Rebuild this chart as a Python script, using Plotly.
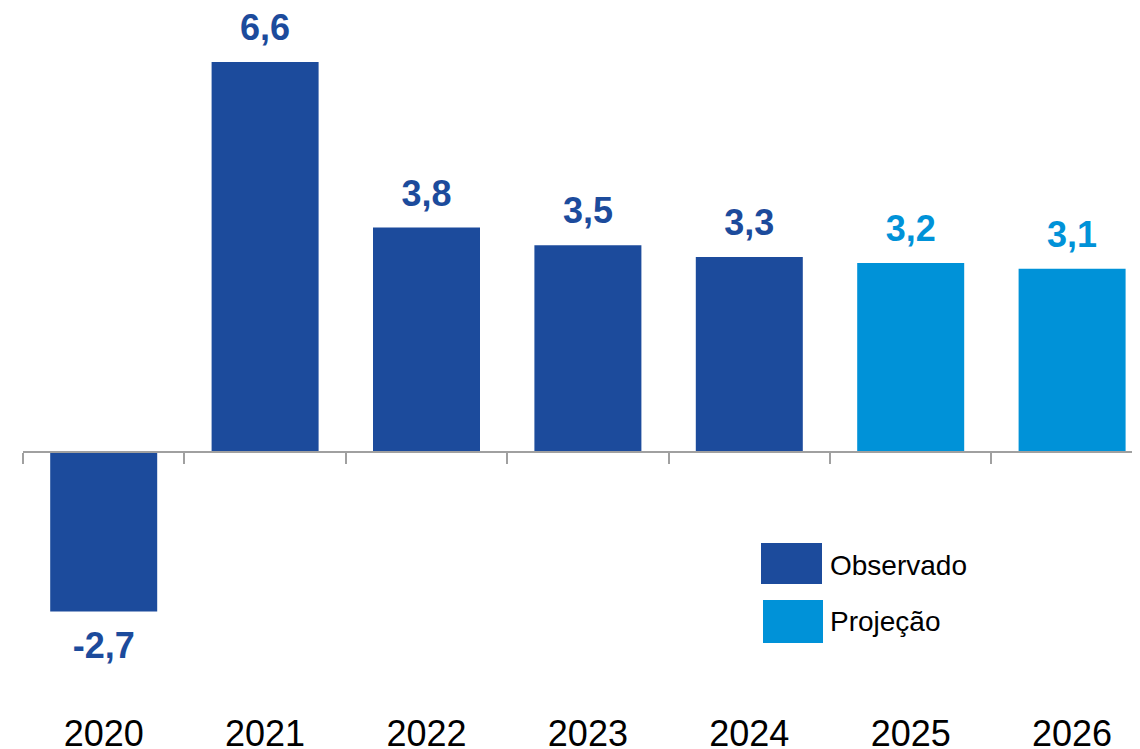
import plotly.graph_objects as go

# ---- data ----
years = ["2020", "2021", "2022", "2023", "2024", "2025", "2026"]
observed_years = ["2020", "2021", "2022", "2023", "2024"]
observed_values = [-2.7, 6.6, 3.8, 3.5, 3.3]
projection_years = ["2025", "2026"]
projection_values = [3.2, 3.1]
series_names = ["Observado", "Projeção"]
series_colors = ["#1C4B9C", "#0092D8"]

# ---- layout constants (page has an 8px body offset) ----
OFF = 8
W, H = 1140, 749
ML, MR, MT, MB = 23 - OFF, 0, 0, 57
PW, PH = W - ML - MR, H - MT - MB
UNIT_X = 161.4
UNIT_Y = 59.1
ZERO_Y = 452 - OFF
y_range = [-(PH - ZERO_Y) / UNIT_Y, ZERO_Y / UNIT_Y]
x_range = [-0.5, -0.5 + PW / UNIT_X]
FONT = "Liberation Sans, Arial, sans-serif"


def fmt(v):
    return f"{v:.1f}".replace(".", ",")


def px_x(px):
    return (px - OFF - ML) / PW


def px_y(py):
    return (MT + PH - (py - OFF)) / PH


fig = go.Figure()
for name, xs, vs, col in [
    (series_names[0], observed_years, observed_values, series_colors[0]),
    (series_names[1], projection_years, projection_values, series_colors[1]),
]:
    fig.add_trace(go.Bar(
        x=xs, y=vs, name=name, marker=dict(color=col, line=dict(width=0)),
        width=0.663, showlegend=False, xaxis="x", yaxis="y",
    ))
    fig.add_trace(go.Scatter(
        x=xs, y=vs, mode="markers+text",
        text=[fmt(v) for v in vs],
        textposition=["top center" if v >= 0 else "bottom center" for v in vs],
        marker=dict(size=[19 if v >= 0 else 30 for v in vs], opacity=0),
        textfont=dict(size=36, color=col, family=FONT, weight="bold"),
        showlegend=False, hoverinfo="skip", xaxis="x", yaxis="y",
    ))

# empty helper trace so the zero-line axis (x2) is rendered
fig.add_trace(go.Scatter(x=[], y=[], xaxis="x2", yaxis="y", showlegend=False,
                         hoverinfo="skip"))

# legend drawn as boxes + text
legend_boxes = [(761, 543, 822, 584), (763, 600, 823, 643)]
legend_text_y = [565, 621]
for (x0, y0, x1, y1), ty, name, col in zip(legend_boxes, legend_text_y, series_names, series_colors):
    fig.add_shape(type="rect", xref="paper", yref="paper",
                  x0=px_x(x0), x1=px_x(x1), y0=px_y(y1), y1=px_y(y0),
                  fillcolor=col, line=dict(width=0), layer="above")
    fig.add_annotation(xref="paper", yref="paper", x=px_x(828), y=px_y(ty),
                       text=name, showarrow=False, xanchor="left", yanchor="middle",
                       font=dict(size=28, color="#000000", family=FONT))

zero_pos = (0 - y_range[0]) / (y_range[1] - y_range[0])

fig.update_layout(
    width=W, height=H,
    margin=dict(l=ML, r=MR, t=MT, b=MB, pad=0, autoexpand=False),
    paper_bgcolor="white", plot_bgcolor="white",
    barmode="overlay",
    font=dict(family=FONT),
    xaxis=dict(
        type="category", categoryorder="array", categoryarray=years,
        range=x_range, showgrid=False, zeroline=False, showline=False,
        automargin=False,
        ticks="outside", ticklen=2, tickcolor="rgba(0,0,0,0)",
        tickfont=dict(size=36, color="#000000", family=FONT),
    ),
    xaxis2=dict(
        overlaying="x", anchor="free", position=zero_pos, type="linear",
        range=x_range, tickmode="array", automargin=False,
        tickvals=[i - 0.5 for i in range(len(years) + 1)],
        ticks="outside", ticklen=11, tickwidth=2, tickcolor="#A0A0A0",
        showline=True, linecolor="#A0A0A0", linewidth=2,
        showticklabels=False, showgrid=False, zeroline=False,
    ),
    yaxis=dict(range=y_range, visible=False, showgrid=False, zeroline=False,
               automargin=False),
)

fig.write_html("out.html")
